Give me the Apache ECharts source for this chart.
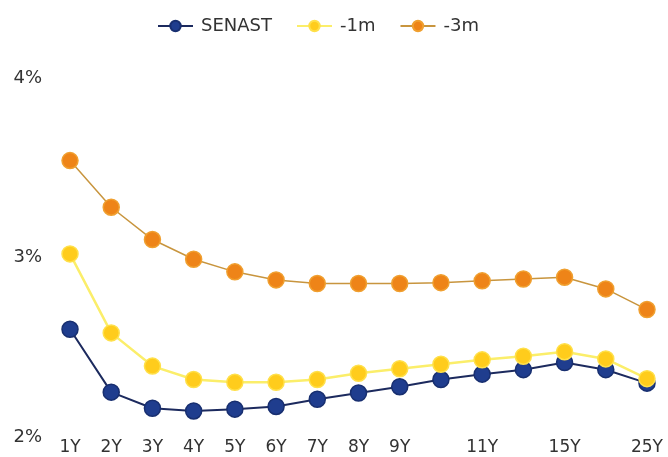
<!DOCTYPE html>
<html>
<head>
<meta charset="utf-8">
<script src="https://cdn.jsdelivr.net/npm/echarts@6/dist/echarts.min.js"></script>
<style>
  html, body { margin: 0; padding: 0; background: #fff; }
  #chart { width: 668px; height: 457px; }
</style>
</head>
<body>
<div id="chart"></div>
<script>
// tenors (some labels are not shown on the axis)
const tenors = ['1Y', '2Y', '3Y', '4Y', '5Y', '6Y', '7Y', '8Y', '9Y', '10Y', '11Y', '12Y', '15Y', '20Y', '25Y']
const hiddenTenors = ['10Y', '12Y', '20Y']
// yields in %
const senast = [2.60, 2.25, 2.16, 2.145, 2.155, 2.17, 2.21, 2.245, 2.28, 2.32, 2.35, 2.375, 2.415, 2.375, 2.30]
const minus1m = [3.02, 2.58, 2.395, 2.32, 2.305, 2.305, 2.32, 2.355, 2.38, 2.405, 2.43, 2.45, 2.475, 2.435, 2.325]
const minus3m = [3.54, 3.28, 3.10, 2.99, 2.92, 2.875, 2.855, 2.855, 2.855, 2.86, 2.87, 2.88, 2.89, 2.825, 2.71]
const yTicks = [2, 3, 4]

const chart = echarts.init(document.getElementById('chart'))

function lineSeries(name, data, lineColor, lineWidth, dotColor, borderColor) {
  return {
    name: name,
    type: 'line',
    data: data,
    symbol: 'circle',
    symbolSize: 16,
    showSymbol: true,
    lineStyle: { color: lineColor, width: lineWidth },
    itemStyle: { color: dotColor, borderColor: borderColor, borderWidth: 1.5 }
  }
}

chart.setOption({
  animation: false,
  textStyle: { fontFamily: 'DejaVu Sans' },
  legend: {
    top: 12,
    left: 152,
    itemWidth: 35,
    itemHeight: 13,
    itemGap: 24,
    textStyle: { fontSize: 18, color: '#333', padding: [0, 0, 0, 3] },
    data: ['SENAST', '-1m', '-3m']
  },
  grid: { left: 70, right: 21, top: 78, bottom: 20 },
  xAxis: {
    type: 'category',
    data: tenors,
    boundaryGap: false,
    axisLine: { show: false },
    axisTick: { show: false },
    axisLabel: {
      fontSize: 17,
      color: '#333',
      margin: 2,
      interval: (i, v) => hiddenTenors.indexOf(v) < 0
    }
  },
  yAxis: {
    type: 'value',
    min: yTicks[0],
    max: yTicks[yTicks.length - 1],
    interval: 1,
    axisLine: { show: false },
    axisTick: { show: false },
    splitLine: { show: false },
    axisLabel: {
      fontSize: 18,
      color: '#333',
      margin: 28,
      formatter: v => v + '%'
    }
  },
  series: [
    lineSeries('SENAST', senast, '#1c2a5e', 2, '#1f3d8e', '#182f70'),
    lineSeries('-1m', minus1m, '#fbee6a', 2.5, '#ffcc1c', '#ffe04a'),
    lineSeries('-3m', minus3m, '#c8953e', 1.5, '#ee8418', '#f0a030')
  ]
})
</script>
</body>
</html>
